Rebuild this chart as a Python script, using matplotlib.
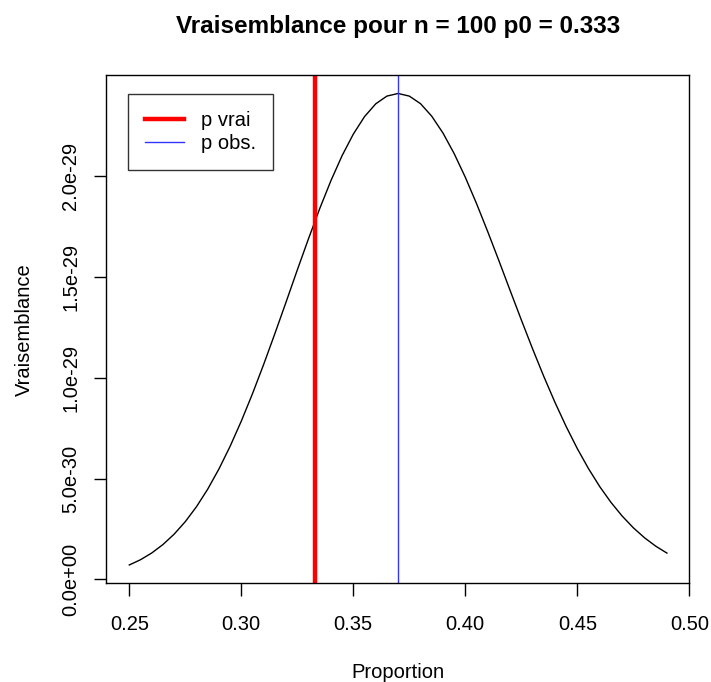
import numpy as np
from matplotlib import pyplot as plt

plt.rcParams['font.family'] = ['Liberation Sans', 'DejaVu Sans']

# likelihood of the observed sample (n = 100, 37 successes), p from 0.25 to 0.49
p_grid = [0.250, 0.255, 0.260, 0.265, 0.270, 0.275, 0.280, 0.285, 0.290, 0.295,
          0.300, 0.305, 0.310, 0.315, 0.320, 0.325, 0.330, 0.335, 0.340, 0.345,
          0.350, 0.355, 0.360, 0.365, 0.370, 0.375, 0.380, 0.385, 0.390, 0.395,
          0.400, 0.405, 0.410, 0.415, 0.420, 0.425, 0.430, 0.435, 0.440, 0.445,
          0.450, 0.455, 0.460, 0.465, 0.470, 0.475, 0.480, 0.485, 0.490]
vrais = [7.12e-31, 9.72e-31, 1.305e-30, 1.723e-30, 2.238e-30, 2.861e-30, 3.603e-30,
         4.471e-30, 5.470e-30, 6.596e-30, 7.847e-30, 9.208e-30, 1.0663e-29, 1.2190e-29,
         1.3756e-29, 1.5343e-29, 1.6893e-29, 1.8384e-29, 1.9769e-29, 2.1013e-29,
         2.2079e-29, 2.2946e-29, 2.3580e-29, 2.3965e-29, 2.4095e-29, 2.3964e-29,
         2.3589e-29, 2.2970e-29, 2.2138e-29, 2.1118e-29, 1.9940e-29, 1.8637e-29,
         1.7245e-29, 1.5801e-29, 1.4326e-29, 1.2866e-29, 1.1440e-29, 1.0072e-29,
         8.782e-30, 7.583e-30, 6.482e-30, 5.488e-30, 4.600e-30, 3.820e-30, 3.141e-30,
         2.557e-30, 2.061e-30, 1.645e-30, 1.301e-30]
p_vrai = 0.333
p_obs = 0.37
x_ticks = [0.25, 0.30, 0.35, 0.40, 0.45, 0.50]
y_ticks = [0.0, 5.0e-30, 1.0e-29, 1.5e-29, 2.0e-29]
y_labels = ['0.0e+00', '5.0e-30', '1.0e-29', '1.5e-29', '2.0e-29']

fs = 14.5

fig = plt.figure(figsize=(7.11, 6.82), dpi=100)
ax = fig.add_axes([0.1491, 0.1447, 0.8204, 0.7453])

ax.plot(p_grid, vrais, color='black', lw=1)
ax.axvline(p_vrai, color='#ff0000', lw=3.2, label='p vrai')
ax.axvline(p_obs, color='#3333ff', lw=1, label='p obs.')

ax.set_xlim(0.2396, 0.5)
ax.set_ylim(-0.0198e-29, 2.501e-29)
ax.set_xticks(x_ticks)
ax.set_xticklabels(['%.2f' % v for v in x_ticks])
ax.set_yticks(y_ticks)
ax.set_yticklabels(y_labels, rotation=90, va='center')
ax.tick_params(direction='out', length=9, width=1, labelsize=fs)
ax.tick_params(axis='x', pad=13.5)
ax.tick_params(axis='y', pad=9.5)
for s in ax.spines.values():
    s.set_linewidth(1)

ax.set_xlabel('Proportion', fontsize=fs, labelpad=21)
ax.set_ylabel('Vraisemblance', fontsize=fs, labelpad=20)
ax.set_title('Vraisemblance pour n = 100 p0 = 0.333', fontsize=17.5,
             fontweight='bold', pad=30)

leg = ax.legend(loc='upper left', bbox_to_anchor=(0.0372, 0.9632), borderaxespad=0,
                fancybox=False, edgecolor='black', fontsize=fs, handlelength=1.95,
                borderpad=0.85, labelspacing=0.2, handletextpad=0.85)
leg.get_frame().set_linewidth(1)

fig.savefig('out.png', dpi=100)
